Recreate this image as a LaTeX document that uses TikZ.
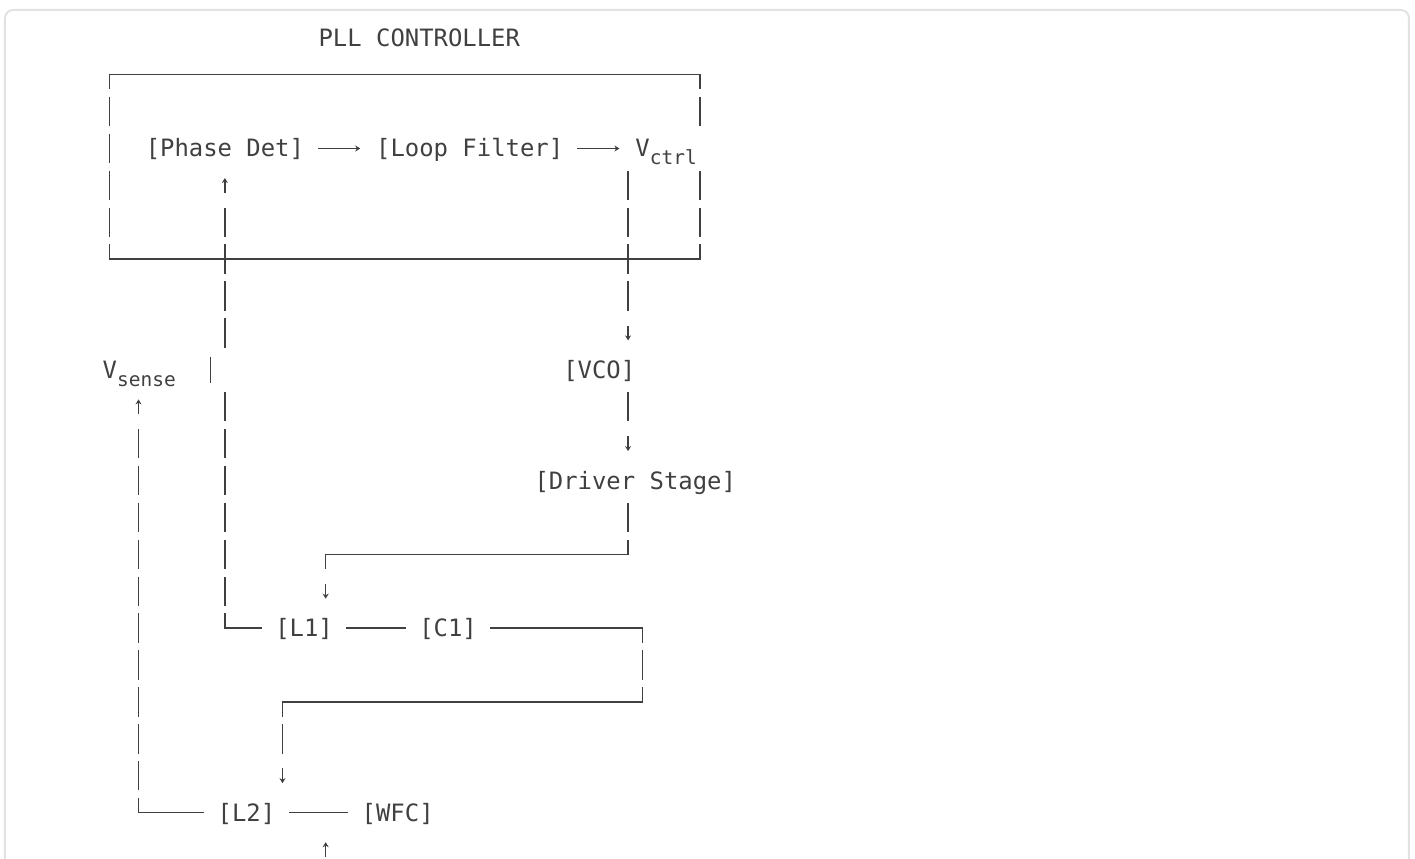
\documentclass[tikz,border=0pt]{standalone}
\usepackage{fontspec}
\newfontfamily\asciifont{DejaVu Sans Mono}
\usetikzlibrary{arrows.meta}

\definecolor{inkc}{HTML}{404040}
\definecolor{framec}{HTML}{E2E2E2}
\def\hh{0.3984}

\tikzset{
  lbl/.style={anchor=base,inner sep=0pt,text=inkc,
    font=\asciifont\fontsize{23.9}{28}\selectfont},
  hline/.style={draw=inkc,line width=1.6pt,line cap=rect},
  vline/.style={draw=inkc,line width=1.6pt,dash pattern=on 29.4pt off 7.5pt},
  half/.style={dash phase=14.7pt},
  glypharr/.style={draw=inkc,line width=1.3pt,-{Stealth[length=5pt,width=6pt]}},
}
\newcommand{\subtxt}[1]{\raisebox{-8pt}{\fontsize{19.5}{20}\selectfont #1}}

\begin{document}
\begin{tikzpicture}[x=14.4pt,y=-36.9pt]
 \useasboundingbox (-3.618,-1.0244) rectangle (94.65,22.255);
 \draw[framec,line width=2pt,rounded corners=8pt] (-3.271,23) -- (-3.271,-0.7534) -- (94.23,-0.7534) -- (94.23,23);

 % labels, one text row per y unit
 \node[lbl] (title) at (25.5,0.23) {PLL CONTROLLER};
 \node[lbl] (pd) at (12,3.23) {[Phase Det]};
 \node[lbl] (lf) at (29,3.23) {[Loop Filter]};
 \node[lbl,anchor=base west] (vctrl) at (40.5,3.23) {V\subtxt{ctrl}};
 \node[lbl,anchor=base west] (vsense) at (3.5,9.23) {V\subtxt{sense}};
 \node[lbl] (vco) at (38,9.23) {[VCO]};
 \node[lbl] (drv) at (40.5,12.23) {[Driver Stage]};
 \node[lbl] (l1) at (17.5,16.23) {[L1]};
 \node[lbl] (c1) at (27.5,16.23) {[C1]};
 \node[lbl] (l2) at (13.5,21.23) {[L2]};
 \node[lbl] (wfc) at (24,21.23) {[WFC]};

 % controller box
 \draw[hline] (4,1) -- (45,1);
 \draw[hline] (4,6) -- (45,6);
 \draw[vline,half] (4,1) -- (4,6);
 \draw[vline,half] (45,1) -- (45,2+\hh);
 \draw[vline] (45,4-\hh) -- (45,6);

 % forward path
 \draw[hline] (18.5,3) -- (20.5,3);
 \draw[glypharr] (20.5,3) -- (21.4,3);
 \draw[hline] (36.5,3) -- (38.5,3);
 \draw[glypharr] (38.5,3) -- (39.4,3);
 \draw[vline] (40,4-\hh) -- (40,7+\hh);
 \draw[glypharr] (40,7.8) -- (40,8.2);
 \draw[vline] (40,10-\hh) -- (40,10+\hh);
 \draw[glypharr] (40,10.8) -- (40,11.2);
 \draw[vline] (40,13-\hh) -- (40,14);
 \draw[hline] (40,14) -- (19,14);
 \draw[vline,half] (19,14) -- (19,14+\hh);
 \draw[glypharr] (19,14.8) -- (19,15.2);

 % tank
 \draw[hline] (20.5,16) -- (24.5,16);
 \draw[hline] (30.5,16) -- (41,16);
 \draw[vline,half] (41,16) -- (41,18);
 \draw[hline] (41,18) -- (16,18);
 \draw[vline,half] (16,18) -- (16,19+\hh);
 \draw[glypharr] (16,19.8) -- (16,20.2);
 \draw[hline] (16.5,21) -- (20.5,21);
 \draw[glypharr] (19,22.2) -- (19,21.8);

 % feedback to phase detector
 \draw[vline] (12,10-\hh) -- (12,16);
 \draw[inkc,line width=1.8pt] (11,9-0.36) -- (11,9+0.36);
 \draw[vline] (12,5-\hh) -- (12,8+\hh);
 \draw[glypharr] (12,4.2) -- (12,3.8);
 \draw[hline] (12,16) -- (14.5,16);

 % sense line
 \draw[vline] (6,11-\hh) -- (6,21);
 \draw[hline] (6,21) -- (10.5,21);
 \draw[glypharr] (6,10.2) -- (6,9.8);
\end{tikzpicture}
\end{document}
